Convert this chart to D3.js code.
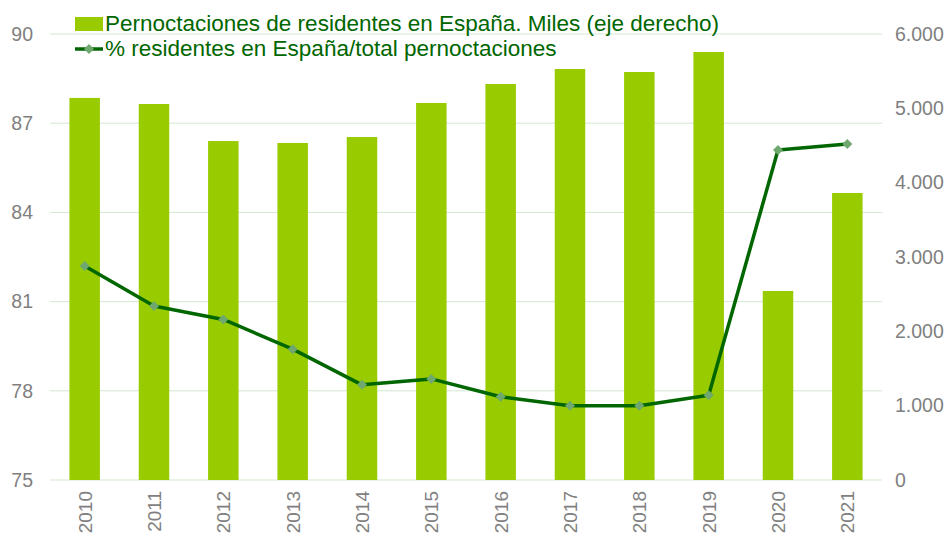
<!DOCTYPE html>
<html>
<head>
<meta charset="utf-8">
<script src="https://cdn.jsdelivr.net/npm/d3@7"></script>
<style>
  body { margin: 0; background: #fff; }
  text { font-family: "Liberation Sans", Arial, sans-serif; }
</style>
</head>
<body>
<div id="chart"></div>
<script>
const years = ["2010","2011","2012","2013","2014","2015","2016","2017","2018","2019","2020","2021"]
// pernoctaciones de residentes (miles), eje derecho
const nights = [5140, 5058, 4560, 4534, 4614, 5072, 5327, 5529, 5489, 5758, 2543, 3861]
// % residentes / total pernoctaciones, eje izquierdo
const share = [82.2, 80.85, 80.4, 79.4, 78.2, 78.4, 77.8, 77.5, 77.5, 77.85, 86.1, 86.3]
const leftTicks = [75, 78, 81, 84, 87, 90]
const rightTicks = [0, 1000, 2000, 3000, 4000, 5000, 6000]

const W = 945, H = 537
const plotL = 50, plotR = 882, plotT = 34, plotB = 480

const svg = d3.select("#chart").append("svg")
    .attr("width", W).attr("height", H)

const x = d3.scaleBand().domain(years).range([plotL, plotR]).paddingInner(0.56).paddingOuter(0.28)
const yL = d3.scaleLinear().domain([75, 90]).range([plotB, plotT])
const yR = d3.scaleLinear().domain([0, 6000]).range([plotB, plotT])

const fmt = d3.formatLocale({decimal: ",", thousands: ".", grouping: [3], currency: ["", "€"]}).format(",")

// grid
svg.append("g").selectAll("line").data(leftTicks).join("line")
    .attr("x1", plotL).attr("x2", plotR)
    .attr("y1", d => yL(d)).attr("y2", d => yL(d))
    .attr("stroke", "#d3e8cf").attr("stroke-width", 1)

// left axis
svg.append("g").attr("transform", `translate(${plotL - 17},0)`)
    .call(d3.axisLeft(yL).tickValues(leftTicks).tickSize(0).tickPadding(0))
    .call(g => g.select(".domain").remove())
    .selectAll("text").attr("fill", "#7f7f7f").attr("font-size", 19.5)

// right axis
svg.append("g").attr("transform", `translate(${plotR + 13},0)`)
    .call(d3.axisRight(yR).tickValues(rightTicks).tickSize(0).tickPadding(0).tickFormat(fmt))
    .call(g => g.select(".domain").remove())
    .selectAll("text").attr("fill", "#7f7f7f").attr("font-size", 19.5)

// bars
svg.append("g").selectAll("rect").data(nights).join("rect")
    .attr("x", (d, i) => x(years[i]))
    .attr("width", x.bandwidth())
    .attr("y", d => yR(d))
    .attr("height", d => plotB - yR(d))
    .attr("fill", "#99cc00")

// x labels
svg.append("g").selectAll("text").data(years).join("text")
    .attr("transform", d => `translate(${x(d) + x.bandwidth() / 2 + 7},491) rotate(-90)`)
    .attr("text-anchor", "end")
    .attr("fill", "#7f7f7f").attr("font-size", 19)
    .text(d => d)

// line
const line = d3.line()
    .x((d, i) => x(years[i]) + x.bandwidth() / 2)
    .y(d => yL(d))

svg.append("path").datum(share)
    .attr("d", line)
    .attr("fill", "none")
    .attr("stroke", "#006600")
    .attr("stroke-width", 3.5)
    .attr("stroke-linejoin", "round")

const diamond = d3.symbol(d3.symbolSquare, 50)

svg.append("g").selectAll("path").data(share).join("path")
    .attr("d", diamond)
    .attr("transform", (d, i) => `translate(${x(years[i]) + x.bandwidth() / 2},${yL(d)}) rotate(45)`)
    .attr("fill", "#6fa86f")

// legend
const lg = svg.append("g")
lg.append("rect").attr("x", 75).attr("y", 17).attr("width", 28).attr("height", 14).attr("fill", "#99cc00")
lg.append("text").attr("x", 105).attr("y", 31).attr("font-size", 22.5).attr("fill", "#006600")
    .text("Pernoctaciones de residentes en España. Miles (eje derecho)")
lg.append("line").attr("x1", 75).attr("x2", 103).attr("y1", 49).attr("y2", 49)
    .attr("stroke", "#006600").attr("stroke-width", 3.5)
lg.append("path").attr("d", diamond)
    .attr("transform", "translate(89,49) rotate(45)").attr("fill", "#6fa86f")
lg.append("text").attr("x", 105).attr("y", 56).attr("font-size", 22.5).attr("fill", "#006600")
    .text("% residentes en España/total pernoctaciones")
</script>
</body>
</html>
